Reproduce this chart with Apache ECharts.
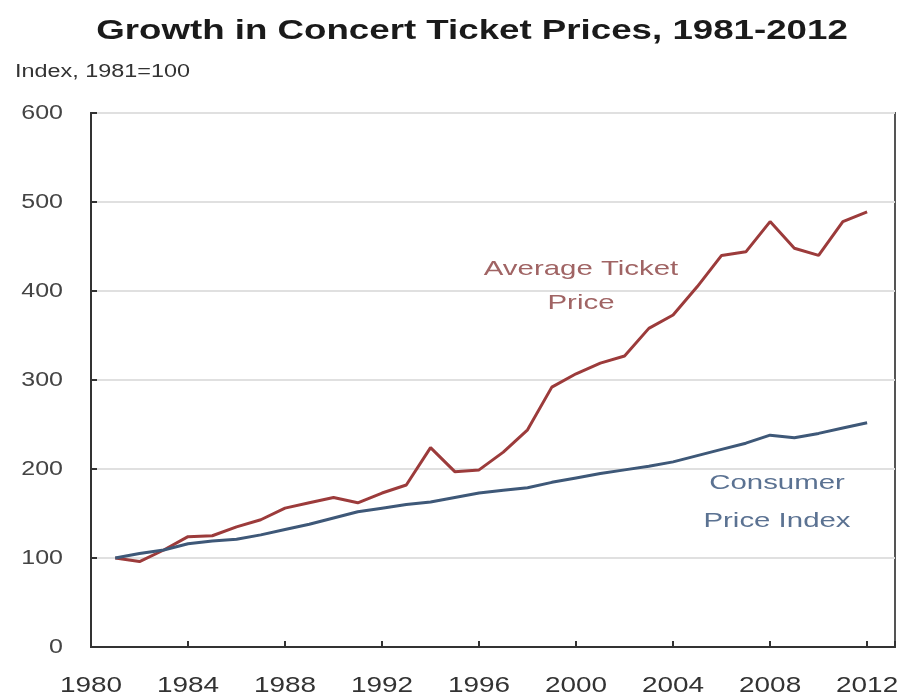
<!DOCTYPE html>
<html>
<head>
<meta charset="utf-8">
<title>Growth in Concert Ticket Prices, 1981-2012</title>
<script src="https://cdn.jsdelivr.net/npm/echarts@6/dist/echarts.min.js"></script>
<style>
  html, body { margin: 0; padding: 0; background: #ffffff; }
  #chart { width: 906px; height: 700px; }
</style>
</head>
<body>
<div id="chart"></div>
<script>
// Index values, 1981 = 100
const years = [1981, 1982, 1983, 1984, 1985, 1986, 1987, 1988, 1989, 1990,
  1991, 1992, 1993, 1994, 1995, 1996, 1997, 1998, 1999, 2000,
  2001, 2002, 2003, 2004, 2005, 2006, 2007, 2008, 2009, 2010, 2011, 2012];

const ticketPrice = [100, 96, 109, 124, 125, 135, 143, 156, 162, 168,
  162, 173, 182, 224, 197, 199, 219, 244, 292, 307,
  319, 327, 358, 373, 405, 440, 444, 478, 448, 440, 478, 489];

const consumerPrice = [100, 105, 109, 116, 119, 121, 126, 132, 138, 145,
  152, 156, 160, 163, 168, 173, 176, 179, 185, 190,
  195, 199, 203, 208, 215, 222, 229, 238, 235, 240, 246, 252];

const yTicks = [0, 100, 200, 300, 400, 500, 600];
const xTicks = [1980, 1984, 1988, 1992, 1996, 2000, 2004, 2008, 2012];

const FONT = '"Liberation Sans", Arial, Helvetica, sans-serif';

const chart = echarts.init(document.getElementById('chart'), null, { renderer: 'canvas' });
const pairs = (vals) => years.map((y, i) => [y, vals[i]]);

chart.setOption({
  backgroundColor: '#ffffff',
  animation: false,
  grid: {
    left: 91, right: 11, top: 113, bottom: 53,
    show: true, borderColor: '#555555', borderWidth: 2, backgroundColor: 'transparent'
  },
  xAxis: {
    type: 'value',
    min: xTicks[0], max: 2013.15, interval: 4,
    axisLine: { show: true, onZero: false, lineStyle: { color: '#333333', width: 2 } },
    axisTick: { show: true, inside: true, length: 6, lineStyle: { color: '#333333', width: 2 } },
    splitLine: { show: false },
    axisLabel: { show: false }
  },
  yAxis: {
    type: 'value',
    min: yTicks[0], max: yTicks[yTicks.length - 1], interval: 100,
    axisLine: { show: true, lineStyle: { color: '#333333', width: 2 } },
    axisTick: { show: true, inside: true, length: 6, lineStyle: { color: '#333333', width: 2 } },
    splitLine: { show: true, lineStyle: { color: '#e0e0e0', width: 2 } },
    axisLabel: { show: false }
  },
  series: [
    {
      name: 'Average Ticket Price',
      type: 'line',
      data: pairs(ticketPrice),
      showSymbol: false,
      lineStyle: { color: '#9c3b3b', width: 3 },
      z: 3
    },
    {
      name: 'Consumer Price Index',
      type: 'line',
      data: pairs(consumerPrice),
      showSymbol: false,
      lineStyle: { color: '#3e5878', width: 3 },
      z: 4
    }
  ]
});

// Text drawn as graphic elements so it can carry the wide letterforms.
function label(x, y, text, size, opts) {
  opts = opts || {};
  return {
    type: 'text',
    x: x, y: y,
    scaleX: opts.scaleX || 1.3,
    silent: true,
    z: 10,
    style: {
      text: text,
      x: 0, y: 0,
      align: opts.align || 'center',
      verticalAlign: 'middle',
      font: (opts.weight || 'normal') + ' ' + size + 'px ' + FONT,
      fill: opts.color || '#333333',
      lineHeight: opts.lineHeight || size * 1.2
    }
  };
}

const graphics = [];

// title and subtitle
graphics.push(label(472, 31, 'Growth in Concert Ticket Prices, 1981-2012', 28,
  { weight: 'bold', color: '#1a1a1a', scaleX: 1.31 }));
graphics.push(label(15, 72, 'Index, 1981=100', 18, { align: 'left', color: '#333333', scaleX: 1.3 }));

// tick labels placed through the axis scales
xTicks.forEach(function (v) {
  const px = chart.convertToPixel({ xAxisIndex: 0 }, v);
  const py = chart.convertToPixel({ yAxisIndex: 0 }, 0);
  graphics.push(label(px, py + 39, String(v), 22, { color: '#333333', scaleX: 1.27 }));
});
yTicks.forEach(function (v) {
  const px = chart.convertToPixel({ xAxisIndex: 0 }, xTicks[0]);
  const py = chart.convertToPixel({ yAxisIndex: 0 }, v);
  graphics.push(label(px - 28, py, String(v), 20, { align: 'right', color: '#444444', scaleX: 1.25 }));
});

// series annotations
graphics.push(label(581, 286, 'Average Ticket\nPrice', 21, { color: '#a06464', lineHeight: 34, scaleX: 1.4 }));
graphics.push(label(777, 502, 'Consumer\nPrice Index', 21, { color: '#5b7292', lineHeight: 38, scaleX: 1.4 }));

chart.setOption({ graphic: graphics });
</script>
</body>
</html>
